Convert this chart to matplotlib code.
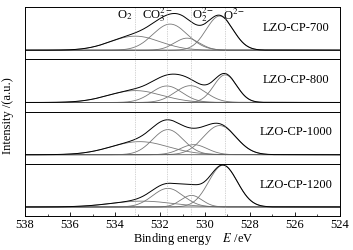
import numpy as np
import matplotlib
matplotlib.use("Agg")
import matplotlib.pyplot as plt

plt.rcParams["font.family"] = ["Liberation Serif", "DejaVu Serif"]
plt.rcParams["mathtext.fontset"] = "stix"

# ---------------------------------------------------------------------------
# O 1s fitted components per sample, order: O2-, CO3 2-, O2 2-, O 2-
# centre (eV), height (a.u.), fwhm (eV)
# ---------------------------------------------------------------------------
samples = ["LZO-CP-700", "LZO-CP-800", "LZO-CP-1000", "LZO-CP-1200"]
centres_700 = [533.1, 531.55, 530.8, 529.35]
centres_800 = [533.1, 531.7, 530.65, 529.1]
centres_1000 = [532.9, 531.65, 530.5, 529.35]
centres_1200 = [532.8, 531.65, 530.6, 529.2]
heights_700 = [14, 26, 12, 34]
heights_800 = [11.8, 16.4, 16.7, 27.5]
heights_1000 = [13, 25, 10, 29]
heights_1200 = [5.8, 18.5, 11.5, 41.5]
fwhm_700 = [2.6, 1.8, 1.3, 1.4]
fwhm_800 = [2.8, 1.6, 1.6, 1.2]
fwhm_1000 = [3.0, 1.6, 1.4, 1.7]
fwhm_1200 = [3.2, 1.6, 1.1, 1.5]
centres = [centres_700, centres_800, centres_1000, centres_1200]
heights = [heights_700, heights_800, heights_1000, heights_1200]
fwhms = [fwhm_700, fwhm_800, fwhm_1000, fwhm_1200]

ref_lines = [533.1, 531.7, 530.6, 529.1]  # dotted guides
peak_labels = ["O$_2$", "CO$_3^{2-}$", "O$_2^{2-}$", "O$^{2-}$"]
label_x = [533.55, 532.1, 530.1, 528.7]


def gauss(x, c, h, w):
    s = w / 2.3548
    return h * np.exp(-(x - c) ** 2 / (2 * s * s))


x = np.linspace(524, 538, 1400)

fig, axes = plt.subplots(4, 1, figsize=(3.53, 2.5), dpi=100, sharex=True)
fig.subplots_adjust(left=0.071, right=0.963, top=0.972, bottom=0.136, hspace=0)

for ax, name, cs, hs, ws in zip(axes, samples, centres, heights, fwhms):
    total = np.zeros_like(x)
    for c, h, w in zip(cs, hs, ws):
        comp = gauss(x, c, h, w)
        total += comp
        ax.plot(x, comp, color="#777777", lw=0.6)
    ax.plot(x, np.zeros_like(x), color="#555555", lw=0.6)
    ax.plot(x, total, color="black", lw=0.7)
    for c in ref_lines:
        ax.axvline(c, color="#aaaaaa", lw=0.5, ls=(0, (1, 1.5)))
    ax.set_ylim(-9, 43)
    ax.set_yticks([])
    ax.text(0.86, 0.6, name, transform=ax.transAxes, ha="center", va="center",
            fontsize=9)
    for s in ax.spines.values():
        s.set_linewidth(0.7)
    ax.tick_params(axis="x", which="both", direction="in", top=False, length=0)

ax = axes[-1]
ax.set_xlim(538, 524)
ax.set_xticks(np.arange(524, 539, 2))
ax.set_xticks(np.arange(525, 538, 2), minor=True)
ax.tick_params(axis="x", which="major", length=3, width=0.6, labelsize=9, pad=2)
ax.tick_params(axis="x", which="minor", length=1.5, width=0.5)

# peak labels on the top panel
for lx, lab in zip(label_x, peak_labels):
    axes[0].text(lx, 35, lab, ha="center", va="center", fontsize=9)

fig.text(0.022, 0.536, "Intensity /(a.u.)", rotation=90, ha="center", va="center",
         fontsize=9)
fig.text(0.547, 0.045, "Binding energy    $E$ /eV", ha="center", va="center",
         fontsize=9)

fig.savefig("out.png", dpi=100)
